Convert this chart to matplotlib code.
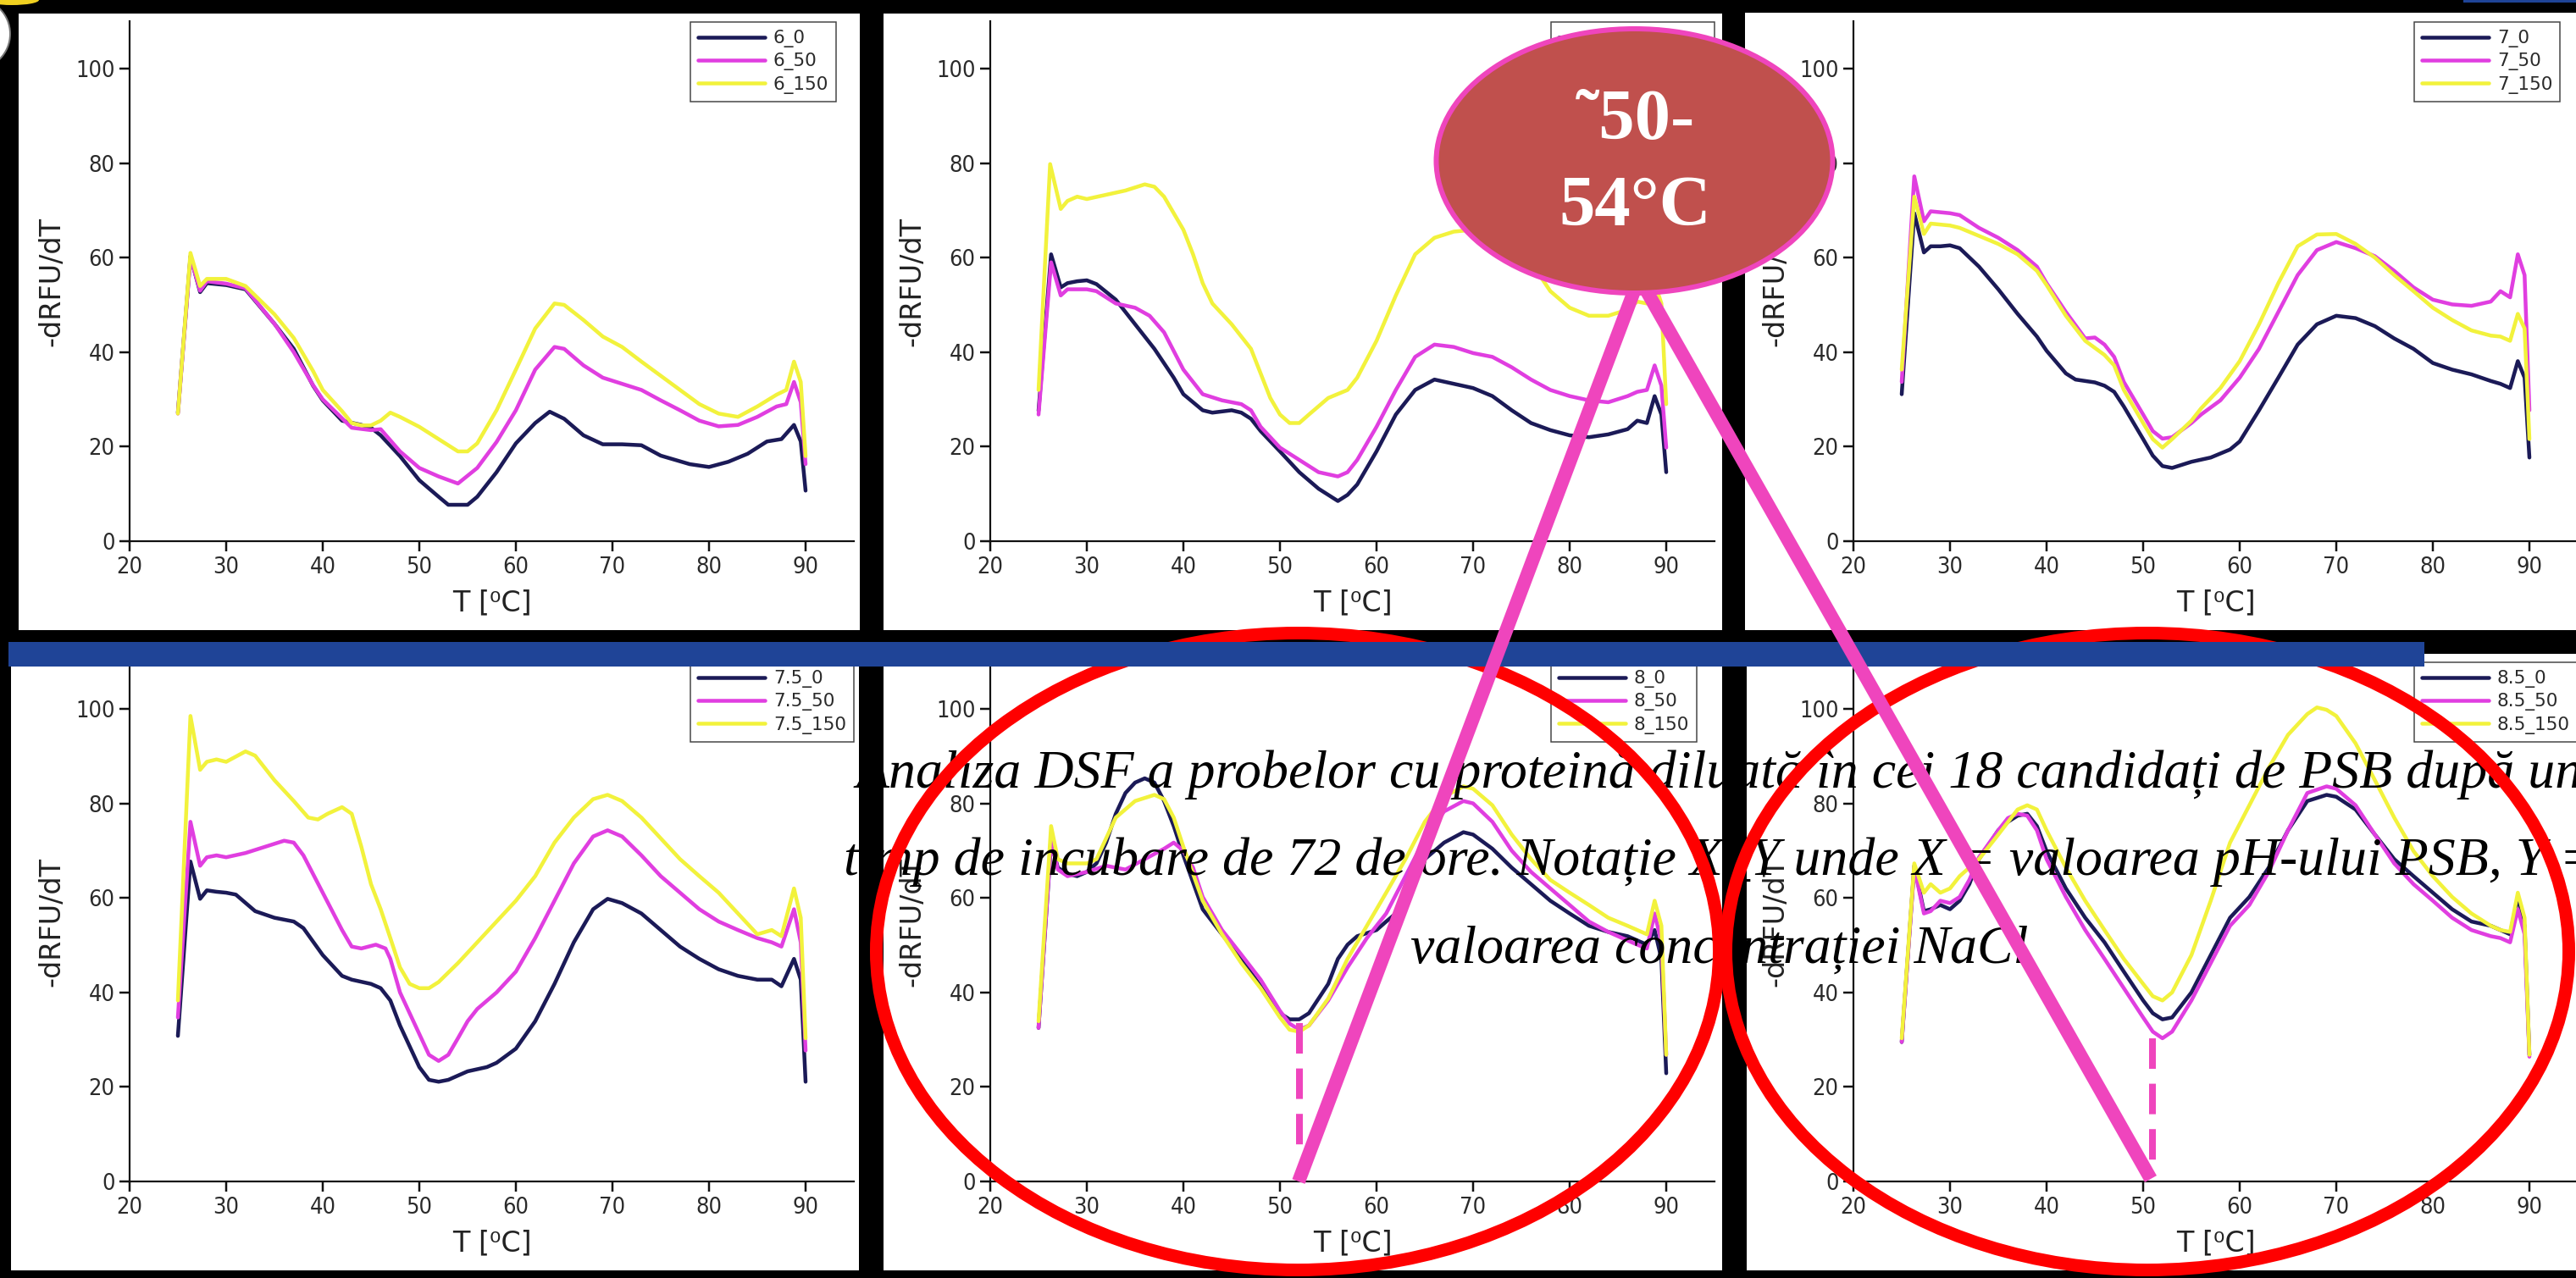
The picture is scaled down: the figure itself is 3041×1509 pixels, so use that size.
import matplotlib
matplotlib.use("Agg")
import matplotlib.pyplot as plt
from matplotlib.patches import Ellipse, Rectangle, Circle

# ---------------------------------------------------------------- data
PH = ["6", "6.5", "7", "7.5", "8", "8.5"]
NACL = ["0", "50", "150"]

# pH 6
T_6_0 = [25, 26.3, 27.3, 28, 30, 32, 35, 37, 39, 40, 42, 44, 45, 46, 48, 50, 52, 53, 55, 56, 58, 60, 62, 63.5, 65, 67, 69, 71, 73, 75, 78, 80, 82, 84, 86, 87.5, 88.8, 89.5, 90]
F_6_0 = [27.2, 60.3, 52.7, 54.6, 54.2, 53.3, 46, 40.7, 32.9, 29.8, 25.5, 24.6, 24, 22.4, 18, 12.9, 9.4, 7.7, 7.7, 9.4, 14.6, 20.7, 25, 27.4, 25.9, 22.4, 20.5, 20.5, 20.3, 18.1, 16.3, 15.7, 16.8, 18.5, 21.1, 21.6, 24.6, 21.1, 10.7]
T_6_50 = [25, 26.3, 27.3, 28, 30, 32, 35, 37, 39, 40, 42, 43, 45, 46, 48, 50, 52, 54, 56, 58, 60, 62, 64, 65, 67, 69, 71, 73, 75, 77, 79, 81, 83, 85, 87, 88, 88.8, 89.5, 90]
F_6_50 = [27, 60, 53, 55, 54.5, 53.5, 46, 40, 33, 30, 26, 24, 23.5, 23.7, 19, 15.5, 13.7, 12.2, 15.5, 21, 27.7, 36.3, 41.1, 40.7, 37.2, 34.6, 33.3, 32, 29.8, 27.7, 25.5, 24.3, 24.6, 26.3, 28.5, 29, 33.7, 29.4, 16.3]
T_6_150 = [25, 26.3, 27.3, 28, 30, 32, 35, 37, 39, 40, 42, 43, 44, 45, 46, 47, 48, 50, 52, 54, 55, 56, 58, 60, 62, 64, 65, 67, 69, 71, 73, 75, 77, 79, 81, 83, 85, 87, 88, 88.8, 89.5, 90]
F_6_150 = [27, 61, 54, 55.5, 55.5, 54, 48, 43, 36, 32, 27.5, 25, 24.5, 24.5, 25.5, 27.2, 26.3, 24.2, 21.6, 19, 19, 20.7, 27.7, 36.3, 45, 50.3, 50, 46.8, 43.3, 41.1, 38, 35, 32, 29, 27, 26.3, 28.5, 31, 32, 38, 33.7, 18]

# pH 6.5
T_65_0 = [25, 26.3, 27.3, 28, 29, 30, 31, 33, 35, 37, 39, 40, 42, 43, 45, 46, 47, 48, 50, 52, 54, 55, 56, 57, 58, 60, 62, 64, 66, 68, 70, 72, 74, 76, 78, 80, 82, 84, 86, 87, 88, 88.8, 89.5, 90]
F_65_0 = [27.6, 60.7, 53.7, 54.6, 55, 55.2, 54.4, 51.1, 45.9, 40.7, 34.6, 31.1, 27.7, 27.2, 27.7, 27.2, 25.9, 23.3, 19, 14.6, 11.1, 9.8, 8.5, 9.8, 12, 19, 26.8, 32, 34.2, 33.3, 32.4, 30.7, 27.7, 25, 23.5, 22.4, 22, 22.6, 23.7, 25.5, 25, 30.7, 26.8, 14.6]
T_65_50 = [25, 26.3, 27.3, 28, 30, 31, 33, 35, 36.5, 38, 40, 42, 44, 46, 47, 48, 50, 52, 54, 56, 57, 58, 60, 62, 64, 66, 68, 70, 72, 74, 76, 78, 80, 82, 84, 86, 87, 88, 88.8, 89.5, 90]
F_65_50 = [26.8, 59, 52, 53.3, 53.3, 52.9, 50.3, 49.4, 47.7, 44.2, 36.3, 31.1, 29.8, 29, 27.7, 24.2, 19.8, 17.2, 14.6, 13.7, 14.6, 17.2, 24.2, 32, 39, 41.6, 41.1, 39.8, 39, 36.8, 34.2, 32, 30.7, 29.8, 29.4, 30.7, 31.6, 32, 37.2, 32.9, 19.8]
T_65_150 = [25, 26.2, 27.3, 28, 29, 30, 32, 34, 36, 37, 38, 40, 41, 42, 43, 45, 47, 48, 49, 50, 51, 52, 53, 55, 57, 58, 60, 62, 64, 66, 68, 70, 72, 74, 76, 78, 80, 82, 84, 86, 87, 88, 88.8, 89.5, 90]
F_65_150 = [32, 79.8, 70.3, 72, 72.9, 72.4, 73.3, 74.2, 75.5, 75, 72.9, 65.9, 60.7, 54.6, 50.3, 45.9, 40.7, 35.5, 30.3, 26.8, 25, 25, 26.8, 30.3, 32, 34.6, 42.4, 52, 60.7, 64.2, 65.5, 65.9, 64.2, 62, 59, 52.9, 49.4, 47.7, 47.7, 49, 50.7, 50.3, 54.6, 50.3, 29]

# pH 7
T_7_0 = [25, 26.3, 27.3, 28, 29, 30, 31, 33, 35, 37, 39, 40, 42, 43, 45, 46, 47, 48, 50, 51, 52, 53, 55, 57, 59, 60, 62, 64, 66, 68, 70, 72, 74, 76, 78, 80, 82, 84, 86, 87, 88, 88.8, 89.5, 90]
F_7_0 = [31.1, 69.4, 61.1, 62.4, 62.4, 62.6, 62, 58.1, 53.3, 48.1, 43.3, 40.3, 35.5, 34.2, 33.6, 32.9, 31.6, 28.5, 21.6, 18.1, 15.9, 15.5, 16.8, 17.7, 19.4, 21.1, 27.7, 34.6, 41.6, 45.9, 47.7, 47.2, 45.5, 42.9, 40.7, 37.7, 36.3, 35.3, 33.9, 33.3, 32.4, 38.1, 34.6, 17.7]
T_7_50 = [25, 26.3, 27.3, 28, 30, 31, 33, 35, 37, 39, 40, 42, 44, 45, 46, 47, 48, 50, 51, 52, 53, 55, 56, 58, 60, 62, 64, 66, 68, 70, 72, 74, 76, 78, 80, 82, 84, 86, 87, 88, 88.8, 89.5, 90]
F_7_50 = [33.7, 77.2, 67.7, 69.8, 69.4, 69, 66.3, 64.2, 61.6, 58.1, 54.6, 48.5, 42.9, 43.1, 41.6, 39, 33.7, 26.8, 23.3, 21.7, 22, 25, 26.8, 29.8, 34.6, 40.7, 48.5, 56.3, 61.6, 63.3, 62, 60.3, 57.2, 53.7, 51.1, 50.1, 49.8, 50.7, 52.9, 51.6, 60.7, 56.3, 27.7]
T_7_150 = [25, 26.3, 27.3, 28, 30, 31, 33, 35, 37, 39, 40, 42, 44, 46, 47, 48, 50, 51, 52, 53, 55, 56, 58, 60, 62, 64, 66, 68, 70, 72, 74, 76, 78, 80, 82, 84, 86, 87, 88, 88.8, 89.5, 90]
F_7_150 = [36.3, 72.9, 65, 67.2, 66.8, 66.3, 64.6, 62.9, 60.7, 57.2, 54.2, 47.7, 42.4, 39.4, 37.2, 32, 25, 21.6, 19.8, 21.6, 25.5, 28.1, 32.4, 38.1, 45.9, 54.6, 62.4, 64.9, 65, 62.9, 60, 56.3, 52.9, 49.4, 46.8, 44.6, 43.5, 43.3, 42.4, 48.1, 45, 21.6]

# pH 7.5
T_75_0 = [25, 26.3, 27.3, 28, 29, 30, 31, 33, 35, 37, 38, 40, 42, 43, 45, 46, 47, 48, 50, 51, 52, 53, 55, 57, 58, 60, 62, 64, 66, 68, 69.5, 71, 73, 75, 77, 79, 81, 83, 85, 86.5, 87.5, 88.8, 89.5, 90]
F_75_0 = [30.8, 67.7, 59.8, 61.6, 61.3, 61.1, 60.7, 57.2, 55.8, 55, 53.6, 47.9, 43.5, 42.7, 41.8, 40.9, 38.3, 33, 24.2, 21.5, 21.1, 21.5, 23.3, 24.2, 25.1, 28.1, 33.9, 41.8, 50.6, 57.6, 59.8, 58.9, 56.7, 53.2, 49.7, 47.1, 44.9, 43.5, 42.7, 42.7, 41.3, 47.1, 42.7, 21.1]
T_75_50 = [25, 26.3, 27.3, 28, 29, 30, 32, 34, 36, 37, 38, 40, 42, 43, 44, 45.5, 46.5, 47, 48, 49, 50, 51, 52, 53, 54, 55, 56, 58, 60, 62, 64, 66, 68, 69.5, 71, 73, 75, 77, 79, 81, 83, 85, 86.5, 87.5, 88.8, 89.5, 90]
F_75_50 = [34.7, 76.1, 66.8, 68.6, 69, 68.6, 69.5, 70.8, 72.1, 71.7, 69, 61.1, 53.2, 49.7, 49.3, 50.1, 49.3, 47.1, 40, 35.6, 31.2, 26.8, 25.5, 26.8, 30.3, 33.9, 36.5, 40, 44.4, 51.5, 59.4, 67.3, 73, 74.3, 73, 69, 64.6, 61.1, 57.6, 55, 53.2, 51.5, 50.6, 49.7, 57.6, 50.6, 27.7]
T_75_150 = [25, 26.3, 27.3, 28, 29, 30, 32, 33, 35, 37, 38.5, 39.5, 40.5, 42, 43, 44, 45, 46, 47, 48, 49, 50, 51, 52, 54, 56, 58, 60, 62, 64, 66, 68, 69.5, 71, 73, 75, 77, 79, 81, 83, 85, 86.5, 87.5, 88.8, 89.5, 90]
F_75_150 = [38.3, 98.5, 87.1, 88.8, 89.3, 88.8, 91, 90.1, 84.9, 80.5, 77, 76.6, 77.8, 79.2, 77.8, 70.8, 62.9, 57.6, 51.5, 45.3, 41.8, 40.9, 40.9, 42.2, 46.2, 50.6, 55, 59.4, 64.6, 71.7, 77, 80.9, 81.8, 80.5, 77, 72.6, 68.2, 64.6, 61.1, 56.7, 52.3, 53.2, 51.9, 62, 55.8, 30.3]

# pH 8
T_8_0 = [25, 26.3, 27, 28, 29, 30, 31, 32, 33, 34, 35, 36, 37, 38, 39, 40, 42, 44, 46, 48, 50, 51, 52, 53, 55, 56, 57, 58, 60, 61, 62, 63, 65, 67, 69, 70, 72, 74, 76, 78, 80, 82, 84, 86, 87, 88, 88.8, 89.5, 90]
F_8_0 = [32.5, 71.7, 66.4, 65.1, 64.6, 65.5, 67.3, 71.7, 77.8, 82.2, 84.4, 85.3, 84.4, 80.5, 75.2, 69, 57.6, 52.3, 47.1, 41.3, 35.6, 34.3, 34.3, 35.6, 41.8, 47.1, 50.1, 51.9, 53.2, 55, 56.7, 61.1, 68.2, 71.7, 73.9, 73.4, 70.4, 66.4, 62.9, 59.4, 56.7, 54.1, 52.8, 51.9, 51, 50.1, 53.2, 47.1, 22.9]
T_8_50 = [25, 26.3, 27, 28, 30, 32, 34, 36, 38, 39, 40, 41, 42, 44, 46, 48, 50, 51, 52, 53, 55, 57, 59, 61, 63, 65, 67, 69, 70, 72, 74, 76, 78, 80, 82, 84, 86, 87, 88, 88.8, 89.5, 90]
F_8_50 = [32.5, 72.1, 66, 64.6, 65.5, 66.8, 66, 68.2, 70.4, 71.7, 70, 66.4, 60.2, 53.2, 48, 42.7, 36.1, 33.4, 32.1, 33, 38.3, 45.3, 51.5, 56.7, 64.6, 72.6, 78.3, 80.5, 80, 76.1, 70, 65.5, 62, 58.5, 55, 52.8, 51, 50.1, 49.3, 56.7, 50.6, 26.8]
T_8_150 = [25, 26.3, 27, 28, 30, 31, 33, 35, 37, 38, 39, 40, 42, 44, 46, 48, 50, 51, 52, 53, 55, 57, 59, 61, 63, 65, 67, 69, 70, 72, 74, 76, 78, 80, 82, 84, 86, 87, 88, 88.8, 89.5, 90]
F_8_150 = [33.9, 75.2, 68.2, 67.3, 67.3, 68.2, 77, 80.5, 81.8, 80.9, 77, 70.8, 59.4, 52.3, 46.2, 40.9, 34.7, 32.1, 31.7, 33, 38.7, 47.1, 54.1, 61.1, 68.2, 76.1, 81.4, 83.6, 83.1, 79.6, 73.4, 68.2, 63.8, 61.1, 58.5, 55.8, 54.1, 53.2, 52.3, 59.4, 54.1, 26.8]

# pH 8.5
T_85_0 = [25, 26.3, 27.3, 28, 29, 30, 31, 32, 33, 35, 36, 37, 38, 39, 40, 42, 44, 46, 48, 50, 51, 52, 53, 55, 57, 59, 61, 63, 65, 67, 69, 70, 72, 74, 76, 78, 80, 82, 84, 86, 87, 88, 88.8, 89.5, 90]
F_85_0 = [29.5, 66.8, 57.2, 57.6, 58.5, 57.6, 59.4, 62.9, 68.2, 74.3, 76.1, 77.4, 77.8, 75.2, 69.9, 62, 55.8, 50.6, 44.4, 38.3, 35.6, 34.3, 34.7, 40, 47.9, 55.8, 60.2, 66.4, 74.3, 80.5, 81.8, 81.4, 78.7, 73.4, 68.2, 64.6, 61.1, 57.6, 55, 54.1, 53.2, 52.3, 60.2, 54.1, 26.8]
T_85_50 = [25, 26.3, 27.3, 28, 29, 30, 31, 32, 33, 35, 36, 37, 38, 39, 40, 42, 44, 46, 48, 50, 51, 52, 53, 55, 57, 59, 61, 63, 65, 67, 69, 70, 72, 74, 76, 78, 80, 82, 84, 86, 87, 88, 88.8, 89.5, 90]
F_85_50 = [29.5, 66.4, 56.7, 57.2, 59.4, 58.9, 60.2, 63.8, 68.6, 74.3, 76.9, 77.8, 77.4, 74.3, 68.2, 60.2, 53.2, 47.1, 40.9, 34.7, 31.7, 30.3, 31.7, 38.3, 46.2, 54.1, 58.5, 65.5, 74.3, 82.2, 83.6, 83.1, 79.6, 73.4, 67.3, 62.9, 59.4, 55.8, 53.2, 51.9, 51.5, 50.6, 57.6, 52.3, 26.4]
T_85_150 = [25, 26.3, 27.3, 28, 29, 30, 31, 33, 35, 37, 38, 39, 40, 42, 44, 46, 48, 50, 51, 52, 53, 55, 57, 59, 61, 63, 65, 67, 68, 69, 70, 72, 74, 76, 78, 80, 82, 84, 86, 87, 88, 88.8, 89.5, 90]
F_85_150 = [30.3, 67.3, 61.1, 62.9, 61.1, 62, 64.6, 68.2, 73.4, 78.7, 79.6, 78.7, 74.3, 66.4, 59.4, 53.2, 47.1, 41.8, 39.2, 38.3, 40, 47.9, 59.4, 71.7, 79.6, 87.5, 94.5, 98.9, 100.3, 99.8, 98.5, 92.7, 84.9, 77, 69.9, 64.6, 60.2, 56.7, 54.1, 53.2, 52.8, 61.1, 55.8, 26.8]

SERIES = [
    [(T_6_0, F_6_0), (T_6_50, F_6_50), (T_6_150, F_6_150)],
    [(T_65_0, F_65_0), (T_65_50, F_65_50), (T_65_150, F_65_150)],
    [(T_7_0, F_7_0), (T_7_50, F_7_50), (T_7_150, F_7_150)],
    [(T_75_0, F_75_0), (T_75_50, F_75_50), (T_75_150, F_75_150)],
    [(T_8_0, F_8_0), (T_8_50, F_8_50), (T_8_150, F_8_150)],
    [(T_85_0, F_85_0), (T_85_50, F_85_50), (T_85_150, F_85_150)],
]

# melting-point markers (panel index, Tm, top, bottom of marker)
TM_MARKS = [(4, 52, 33.5, 7.5), (5, 51, 30.3, 4.5)]

XTICKS = [20, 30, 40, 50, 60, 70, 80, 90]
YTICKS = [0, 20, 40, 60, 80, 100]

TITLE_LINES = [
    "Analiza DSF a probelor cu proteină diluată în cei 18 candidați de PSB după un",
    "timp de incubare de 72 de ore. Notație X_Y unde X = valoarea pH-ului PSB, Y =",
    "valoarea concentrației NaCl",
]
CALLOUT_LINES = ["˜50-", "54°C"]

# ---------------------------------------------------------------- style
COLORS = ["#1b1a57", "#e03ee0", "#f2f23c"]
PINK = "#ef45bd"
W, H, DPI = 3041, 1509, 100
PT = 72.0 / DPI  # points per pixel

fig = plt.figure(figsize=(W / DPI, H / DPI), dpi=DPI, facecolor="black")

# background layer (pixel coordinates, y downwards)
bg = fig.add_axes([0, 0, 1, 1], zorder=0)
bg.set_xlim(0, W)
bg.set_ylim(H, 0)
bg.axis("off")
bg.patch.set_alpha(0)

panel_boxes = [
    (22, 16, 1015, 744), (1043, 16, 2033, 744), (2060, 15, W, 744),
    (13, 772, 1014, 1500), (1043, 772, 2033, 1500), (2062, 772, W, 1500),
]
for x0, y0, x1, y1 in panel_boxes:
    bg.add_patch(Rectangle((x0, y0), x1 - x0, y1 - y0, facecolor="white",
                           edgecolor="none"))
# corner decorations
bg.add_patch(Circle((-30, 40), 42, facecolor="white", edgecolor="#777777",
                    lw=2 * PT))
bg.add_patch(Ellipse((14, 0), 64, 12, facecolor="#f0d020", edgecolor="none"))
bg.add_patch(Rectangle((2908, 0), W - 2908, 3, facecolor="#1f4497",
                       edgecolor="none"))

# chart axes geometry: x pixel of T=20, px per degree, y pixel of 0, px per unit
X0 = [153, 1169, 2188, 153, 1169, 2188]
Y0 = [639, 639, 639, 1395, 1395, 1395]
PPX = 11.4
PPY = 5.58

axes = []
for i, ph in enumerate(PH):
    L = X0[i]
    R = L + 75 * PPX
    B = Y0[i]
    T = B - 110 * PPY
    ax = fig.add_axes([L / W, 1 - B / H, (R - L) / W, (B - T) / H], zorder=1)
    ax.patch.set_alpha(0)
    ax.set_xlim(20, 95)
    ax.set_ylim(0, 110)
    for sp in ("top", "right"):
        ax.spines[sp].set_visible(False)
    for sp in ("left", "bottom"):
        ax.spines[sp].set_linewidth(2.2 * PT)
        ax.spines[sp].set_color("#111111")
    ax.set_xticks(XTICKS)
    ax.set_yticks(YTICKS)
    ax.tick_params(direction="out", length=12 * PT, width=2.5 * PT,
                   labelsize=19.5, pad=4, colors="#111111", labelcolor="#2a2a2a")
    for lbl in ax.get_xticklabels() + ax.get_yticklabels():
        lbl.set_fontstretch("condensed")

    for (t, f), nacl, c in zip(SERIES[i], NACL, COLORS):
        ax.plot(t, f, color=c, lw=4.5 * PT, label=f"{ph}_{nacl}",
                solid_joinstyle="round", solid_capstyle="round")

    ax.set_ylabel("-dRFU/dT", fontsize=24, color="#222222")
    ax.yaxis.set_label_coords(-76 / (75 * PPX), 0.5)
    ax.set_xlabel("T [⁰C]", fontsize=24, color="#222222")
    ax.xaxis.set_label_coords(0.5, -56 / (110 * PPY))

    leg = ax.legend(loc="upper left", bbox_to_anchor=(662 / (75 * PPX), 0.998),
                    borderaxespad=0, fontsize=15.5, handlelength=3.7,
                    handletextpad=0.45, labelspacing=0.3, borderpad=0.4,
                    fancybox=False, edgecolor="#444444", framealpha=1)
    leg.get_frame().set_linewidth(1.5 * PT)
    for line in leg.get_lines():
        line.set_linewidth(4.5 * PT)
    for txt in leg.get_texts():
        txt.set_color("#2a2a2a")
    axes.append(ax)

# melting-point dashed markers
for idx, tm, top, bottom in TM_MARKS:
    axes[idx].plot([tm, tm], [top, bottom], color=PINK, lw=8 * PT,
                   dashes=(4.5, 2.2), solid_capstyle="butt", zorder=5)

# overlay layer (pixel coordinates, y downwards)
ov = fig.add_axes([0, 0, 1, 1], zorder=5)
ov.set_xlim(0, W)
ov.set_ylim(H, 0)
ov.axis("off")
ov.patch.set_alpha(0)

for line, yb in zip(TITLE_LINES, [930, 1033, 1137]):
    ov.text(2030, yb, line, ha="center", va="baseline", fontsize=46,
            family="Liberation Serif", style="italic", color="black", zorder=1)

for cx in (1532, 2535):
    ov.add_patch(Ellipse((cx, 1123.5), 2 * 497.5, 2 * 376, facecolor="none",
                         edgecolor="#ff0000", lw=15 * PT, zorder=2))

ov.add_patch(Rectangle((10, 758), 2862 - 10, 29, facecolor="#1f4497",
                       edgecolor="none", zorder=3))

apex = (1935, 328)
for end in ((1533, 1395), (2539, 1392)):
    ov.plot([apex[0], end[0]], [apex[1], end[1]], color=PINK, lw=16 * PT,
            solid_capstyle="butt", zorder=4)

ov.add_patch(Ellipse((1929.5, 190), 468, 312, facecolor="#c0504d",
                     edgecolor=PINK, lw=6 * PT, zorder=5))
for line, yb in zip(CALLOUT_LINES, [164, 266]):
    ov.text(1930, yb, line, ha="center", va="baseline", fontsize=61,
            family="Liberation Serif", weight="bold", color="white", zorder=6)

fig.savefig("out.png", dpi=DPI, facecolor="black")
